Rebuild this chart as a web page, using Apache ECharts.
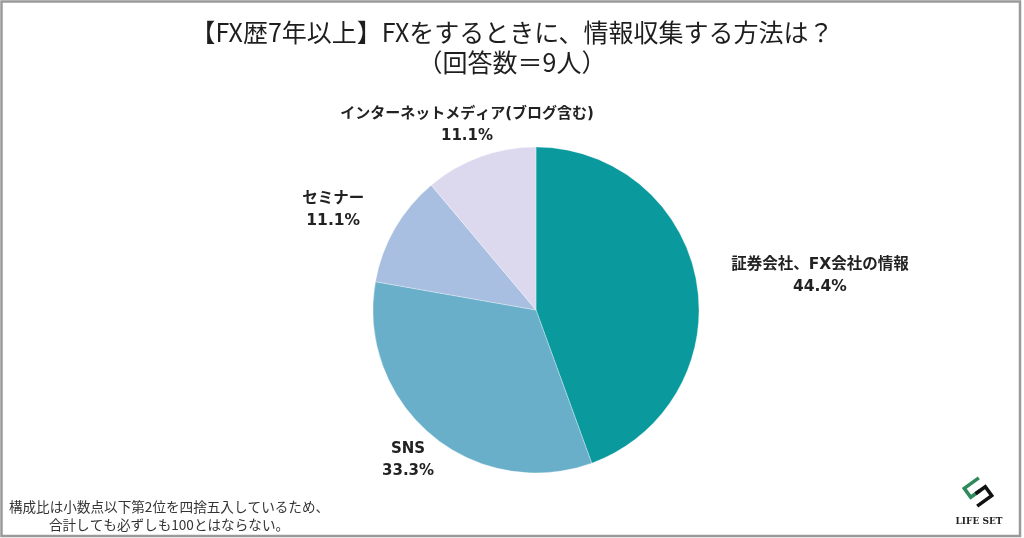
<!DOCTYPE html>
<html>
<head>
<meta charset="utf-8">
<script src="https://cdn.jsdelivr.net/npm/echarts@6/dist/echarts.min.js"></script>
<style>
  html, body { margin: 0; padding: 0; background: #fff; }
  #chart { width: 1024px; height: 538px; }
</style>
</head>
<body>
<div id="chart"></div>
<script>
// ---- data ----
const categories = ['証券会社、FX会社の情報', 'SNS', 'セミナー', 'インターネットメディア(ブログ含む)'];
const percentValues = [44.4, 33.3, 11.1, 11.1];
const sliceColors = ['#0a999d', '#6aafca', '#a8bfe1', '#dcd9ef'];
const titleLines = ['【FX歴7年以上】FXをするときに、情報収集する方法は？', '（回答数＝9人）'];
const noteLines = ['構成比は小数点以下第2位を四捨五入しているため、', '合計しても必ずしも100とはならない。'];

// ---- layout config ----
const FONT = '"Noto Sans CJK JP", "Noto Sans", sans-serif';
const LABEL_FONT = '"DejaVu Sans", "Noto Sans CJK JP", sans-serif';
const PIE_CENTER = [536, 310];
const PIE_RADIUS = 163;
// radial placement of each label: distance from centre, small angle turn (deg), font size
const labelPlacement = [
  { dist: 286, turn: -3.1, size: 15.5 },
  { dist: 197, turn: -0.5, size: 15 },
  { dist: 226, turn: 3.8, size: 15.5 },
  { dist: 197, turn: 0.5, size: 15 }
];

const total = percentValues.reduce((a, b) => a + b, 0);
const midAngles = [];
(function () {
  let acc = 0;
  percentValues.forEach(v => {
    midAngles.push(90 - 360 * (acc + v / 2) / total);
    acc += v;
  });
})();

const chart = echarts.init(document.getElementById('chart'), null, { renderer: 'canvas' });

const option = {
  backgroundColor: '#ffffff',
  animation: false,
  title: {
    text: titleLines.join('\n'),
    left: 'center',
    top: 12,
    textStyle: {
      fontFamily: FONT,
      fontSize: 25,
      fontWeight: 'normal',
      color: '#1e1e1e',
      lineHeight: 30
    }
  },
  series: [{
    type: 'pie',
    center: PIE_CENTER,
    radius: PIE_RADIUS,
    startAngle: 90,
    clockwise: true,
    avoidLabelOverlap: false,
    data: categories.map((name, i) => ({
      name: name,
      value: percentValues[i],
      itemStyle: { color: sliceColors[i] },
      label: { fontSize: labelPlacement[i].size }
    })),
    itemStyle: { borderColor: 'rgba(255,255,255,0.6)', borderWidth: 0.5 },
    label: {
      show: true,
      position: 'outside',
      formatter: p => p.name + '\n' + p.value.toFixed(1) + '%',
      fontFamily: LABEL_FONT,
      fontSize: 15,
      fontWeight: 'bold',
      color: '#222',
      lineHeight: 22
    },
    labelLine: { show: false },
    labelLayout: function (params) {
      const i = params.dataIndex;
      const a = (midAngles[i] + labelPlacement[i].turn) * Math.PI / 180;
      const d = labelPlacement[i].dist;
      return {
        x: PIE_CENTER[0] + d * Math.cos(a),
        y: PIE_CENTER[1] - d * Math.sin(a),
        align: 'center',
        verticalAlign: 'middle'
      };
    },
    emphasis: { disabled: true }
  }],
  graphic: [
    {
      type: 'rect',
      shape: { x: 1.5, y: 1.5, width: 1018.5, height: 534.5 },
      style: { fill: 'none', stroke: '#9a9a9a', lineWidth: 2.5 },
      silent: true
    },
    {
      type: 'text',
      x: 169,
      y: 516,
      style: {
        text: noteLines.join('\n'),
        align: 'center',
        verticalAlign: 'middle',
        fontFamily: FONT,
        fontSize: 13.6,
        lineHeight: 18,
        fill: '#333'
      },
      silent: true
    },
    {
      type: 'group',
      x: 978,
      y: 492,
      rotation: Math.PI / 5,
      children: [
        {
          type: 'polyline',
          shape: { points: [[9, -11], [-9, -11], [-9, 0], [3, 0]] },
          style: { stroke: '#2e8a5a', lineWidth: 3.5, fill: 'none' }
        },
        {
          type: 'polyline',
          shape: { points: [[-3, 0], [9, 0], [9, 11], [-9, 11]] },
          style: { stroke: '#111', lineWidth: 3.5, fill: 'none' }
        }
      ],
      silent: true
    },
    {
      type: 'text',
      x: 979,
      y: 522,
      style: {
        text: 'LIFE SET',
        align: 'center',
        verticalAlign: 'middle',
        fontFamily: '"DejaVu Serif", "Liberation Serif", serif',
        fontSize: 9,
        fontWeight: 'bold',
        fill: '#222'
      },
      silent: true
    }
  ]
};

chart.setOption(option);
</script>
</body>
</html>
